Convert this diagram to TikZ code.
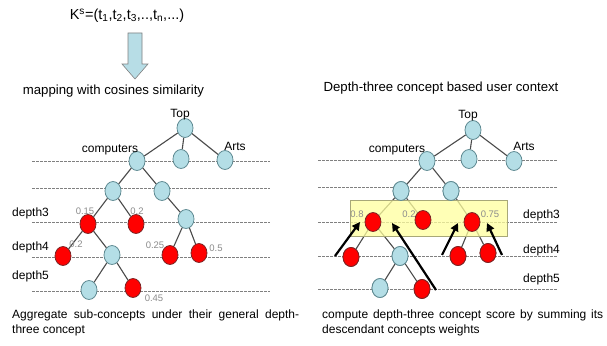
\documentclass[tikz,border=0pt]{standalone}
\usepackage{fontspec}
\setmainfont{Liberation Sans}
\usetikzlibrary{shapes.geometric,arrows.meta}
\definecolor{nodeblue}{HTML}{B4DEE6}
\definecolor{nodeblueline}{HTML}{5F8A92}
\definecolor{nodered}{HTML}{FF0000}
\definecolor{noderedline}{HTML}{7A2626}
\definecolor{edgegray}{HTML}{4A4A4A}
\definecolor{dashgray}{HTML}{808080}
\definecolor{numgray}{HTML}{8C8C8C}
\definecolor{boxyellow}{HTML}{FFFF9E}
\definecolor{boxline}{HTML}{A8A878}
\definecolor{arrowblue}{HTML}{B7DDE6}
\tikzset{
  bnode/.style={ellipse,draw=nodeblueline,fill=nodeblue,line width=0.8pt,minimum width=16pt,minimum height=19pt,inner sep=0pt},
  rnode/.style={ellipse,draw=noderedline,fill=nodered,line width=0.8pt,minimum width=16pt,minimum height=19pt,inner sep=0pt},
  edge/.style={draw=edgegray,line width=1.1pt},
  levelline/.style={draw=dashgray,line width=0.7pt,dash pattern=on 2.5pt off 1.5pt},
  lbl/.style={font=\fontsize{12}{14}\selectfont,inner sep=0pt},
  num/.style={font=\fontsize{9.5}{11}\selectfont,text=numgray,inner sep=0pt},
  headtext/.style={font=\fontsize{13.2}{15}\selectfont,inner sep=0pt},
  formula/.style={font=\fontsize{14.5}{16}\selectfont,inner sep=0pt},
  captext/.style={font=\fontsize{12}{14.5}\selectfont,inner sep=0pt,anchor=north west,align=left},
  bigarrow/.style={draw=black,line width=2.2pt,-{Triangle[length=8pt,width=8pt]}}
}
\begin{document}
\begin{tikzpicture}[x=1pt,y=-1pt]
\useasboundingbox[fill=white] (0,0) rectangle (607,345);

% ---- top formula and block arrow ----
\node[formula] (ks) at (127,16) {K\textsuperscript{s}=(t\textsubscript{1},t\textsubscript{2},t\textsubscript{3},..,t\textsubscript{n},...)};
\draw[draw=gray,fill=arrowblue,line width=0.6pt] (128,33)--(142,33)--(142,64)--(148,64)--(135,79)--(122,64)--(128,64)--cycle;
\node[headtext] (map) at (113.5,91) {mapping with cosines similarity};
\node[headtext] (ctx) at (441,88) {Depth-three concept based user context};

% ---- dashed level lines ----
\foreach \y [count=\i] in {161,188,222,257,291} {
  \coordinate (la\i) at (32,\y); \coordinate (lb\i) at (270,\y);
  \draw[levelline] (la\i) -- (lb\i);
}
\foreach \y [count=\i] in {160,187,222,256,289} {
  \coordinate (ra\i) at (318,\y); \coordinate (rb\i) at (558,\y);
  \draw[levelline] (ra\i) -- (rb\i);
}

% ---- left tree ----
\node[bnode] (LTop) at (185,128) {};
\node[bnode] (LComp) at (137,161) {};
\node[bnode] (LMid) at (181,159) {};
\node[bnode] (LArts) at (225,160) {};
\node[bnode] (LA) at (113,191) {};
\node[bnode] (LB) at (162,191) {};
\node[rnode] (LR1) at (88,224) {};
\node[rnode] (LR2) at (136,224) {};
\node[bnode] (LC) at (186,219) {};
\node[rnode] (LR3) at (63,256) {};
\node[bnode] (LD) at (112,255) {};
\node[rnode] (LR4) at (170,255) {};
\node[rnode] (LR5) at (199,253) {};
\node[bnode] (LE) at (89,290) {};
\node[rnode] (LR6) at (133,288) {};
\foreach \a/\b in {LTop/LComp,LTop/LMid,LTop/LArts,LComp/LA,LComp/LB,LA/LR1,LA/LR2,LB/LC,LR1/LR3,LR1/LD,LC/LR4,LC/LR5,LD/LE,LD/LR6}
  \draw[edge] (\a) -- (\b);

% ---- right tree ----
\node[bnode] (RTop) at (473,130) {};
\node[bnode] (RComp) at (427,161) {};
\node[bnode] (RMid) at (469,159) {};
\node[bnode] (RArts) at (514,161) {};
\node[bnode] (RA) at (401,191) {};
\node[bnode] (RB) at (451,191) {};
\coordinate (RR1c) at (373,222);
\coordinate (RR2c) at (423,220);
\coordinate (RR3c) at (472,222);
\node[rnode] (RR4) at (351,257) {};
\node[bnode] (RD) at (400,256) {};
\node[rnode] (RR5) at (458,256) {};
\node[rnode] (RR6) at (488,253) {};
\node[bnode] (RE) at (380,288) {};
\node[rnode] (RR7) at (422,289) {};
\foreach \a/\b in {RTop/RComp,RTop/RMid,RTop/RArts,RComp/RA,RComp/RB,RA/RR1c,RA/RR2c,RB/RR3c,RR1c/RR4,RR1c/RD,RR3c/RR5,RR3c/RR6,RD/RE,RD/RR7}
  \draw[edge] (\a) -- (\b);
% yellow highlight box
\coordinate (box1) at (350,200); \coordinate (box2) at (507,236);
\fill[boxyellow,fill opacity=0.75] (box1) rectangle (box2);
\draw[boxline,line width=0.8pt] (box1) rectangle (box2);
% redraw nodes over the box
\node[bnode] at (RA) {};
\node[bnode] at (RB) {};
\node[rnode] (RR1) at (RR1c) {};
\node[rnode] (RR2) at (RR2c) {};
\node[rnode] (RR3) at (RR3c) {};
\node[rnode] at (RR4) {};
\node[bnode] at (RD) {};
\node[rnode] at (RR5) {};
\node[rnode] at (RR6) {};
\node[bnode] at (RE) {};
\node[rnode] at (RR7) {};

% black arrows
\coordinate (t1) at (335,256); \coordinate (h1) at (360,222);
\coordinate (t2) at (436,290); \coordinate (h2) at (392,223);
\coordinate (t3) at (442,255); \coordinate (h3) at (458,223);
\coordinate (t4) at (502,255); \coordinate (h4) at (487,223);
\draw[bigarrow] (t1) -- (h1);
\draw[bigarrow] (t2) -- (h2);
\draw[bigarrow] (t3) -- (h3);
\draw[bigarrow] (t4) -- (h4);

% ---- tree labels ----
\node[lbl] (lt) at (180,115) {Top};
\node[lbl] (lc) at (110,150) {computers};
\node[lbl] (la) at (235,146) {Arts};
\node[lbl] (rt) at (468,116) {Top};
\node[lbl] (rc) at (397,150) {computers};
\node[lbl] (ra) at (524,146) {Arts};

\node[lbl,anchor=west] (ld3) at (12,213) {depth3};
\node[lbl,anchor=west] (ld4) at (12,247) {depth4};
\node[lbl,anchor=west] (ld5) at (12,276) {depth5};
\node[lbl,anchor=west] (rd3) at (523,215) {depth3};
\node[lbl,anchor=west] (rd4) at (523,250) {depth4};
\node[lbl,anchor=west] (rd5) at (523,279) {depth5};

\node[num] (n1) at (85,211) {0.15};
\node[num] (n2) at (137,211) {0.2};
\node[num] (n3) at (76,244) {0.2};
\node[num] (n4) at (155,245) {0.25};
\node[num] (n5) at (216,248) {0.5};
\node[num] (n6) at (154,298) {0.45};
\node[num] (n7) at (357,214) {0.8};
\node[num] (n8) at (409,214) {0.2};
\node[num] (n9) at (490,214) {0.75};

% ---- captions ----
\node[captext] (capl) at (12,310) {\makebox[287pt][s]{Aggregate sub-concepts under their general depth-}\\three concept};
\node[captext] (capr) at (322,310) {\makebox[281pt][s]{compute depth-three concept score by summing its}\\descendant concepts weights};
\end{tikzpicture}
\end{document}
